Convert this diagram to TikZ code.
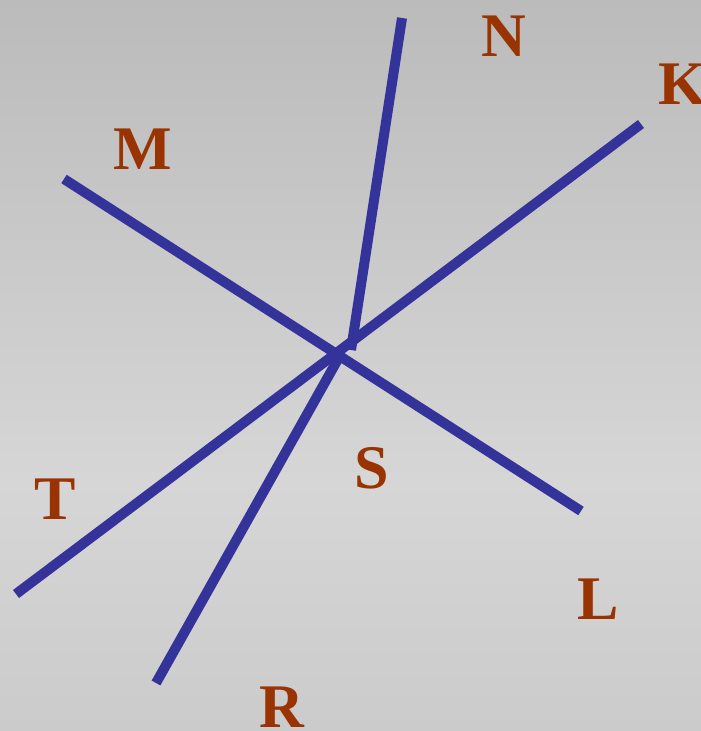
\documentclass[tikz,border=0pt]{standalone}
\usepackage{fontspec}
\setmainfont{Liberation Serif}
\definecolor{linecol}{HTML}{333399}
\definecolor{labcol}{HTML}{993300}
\begin{document}
\begin{tikzpicture}[x=1pt,y=-1pt,
  ray/.style={draw=linecol,line width=10pt},
  lab/.style={text=labcol,font=\fontsize{62}{62}\selectfont\bfseries,anchor=base,inner sep=0pt}]
\shade[top color={rgb,255:red,187;green,187;blue,187},bottom color={rgb,255:red,214;green,214;blue,214}] (0,0) rectangle (701,480);
\shade[top color={rgb,255:red,214;green,214;blue,214},bottom color={rgb,255:red,203;green,203;blue,203}] (0,480) rectangle (701,731);
\useasboundingbox (0,0) rectangle (701,731);
\coordinate (nA) at (402,18);
\coordinate (nB) at (351,350);
\coordinate (rA) at (156,683);
\coordinate (rB) at (342,352);
\coordinate (mA) at (64,179);
\coordinate (lB) at (581,511);
\coordinate (tA) at (16,594);
\coordinate (kB) at (641,124);
\draw[ray] (nA) -- (nB);
\draw[ray] (rA) -- (rB);
\draw[ray] (mA) -- (lB);
\draw[ray] (tA) -- (kB);
\node[lab] (N) at (504,56) {N};
\node[lab] (K) at (683,104) {K};
\node[lab] (M) at (143,169) {M};
\node[lab] (T) at (55,519) {T};
\node[lab] (S) at (372,488) {S};
\node[lab] (L) at (598,619) {L};
\node[lab] (R) at (282,727) {R};
\end{tikzpicture}
\end{document}
